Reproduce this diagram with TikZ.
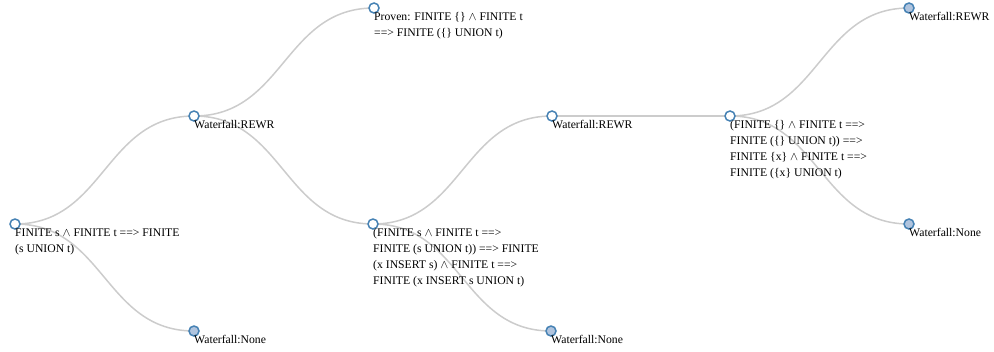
\documentclass[tikz,border=0pt]{standalone}
\usepackage{fontspec}
\setmainfont{Liberation Serif}
\usetikzlibrary{calc}
\pgfdeclarelayer{background}
\pgfsetlayers{background,main}
\newcommand{\conj}{$\wedge$}
\begin{document}
\begin{tikzpicture}[x=1pt,y=-1pt,
  inner/.style={circle,draw=steelblue,fill=white,line width=1.5pt,minimum size=10pt,inner sep=0pt},
  leaf/.style={circle,draw=steelblue,fill=leafblue,line width=1.5pt,minimum size=10pt,inner sep=0pt},
  lbl/.style={anchor=north west,inner sep=0pt,align=left,text=black,
    font=\fontsize{11.7}{16}\selectfont},
  link/.style={draw=linkgray,line width=1.5pt}]
\definecolor{steelblue}{HTML}{4682B4}
\definecolor{leafblue}{HTML}{B0C4DE}
\definecolor{linkgray}{HTML}{CCCCCC}
\useasboundingbox (0,0) rectangle (994,351);

% tree nodes
\node[inner] (root)  at (15,224) {};
\node[inner] (rewrA) at (194,116) {};
\node[leaf]  (noneA) at (194,331) {};
\node[inner] (proven) at (374,8) {};
\node[inner] (stepB) at (373,224) {};
\node[inner] (rewrB) at (552,116) {};
\node[leaf]  (noneB) at (551,331) {};
\node[inner] (stepC) at (730,116) {};
\node[leaf]  (rewrC) at (909,8) {};
\node[leaf]  (noneC) at (909,224) {};

% links as horizontal diagonals, behind the circles
\begin{pgfonlayer}{background}
\foreach \s/\t in {root/rewrA, root/noneA, rewrA/proven, rewrA/stepB,
                   stepB/rewrB, stepB/noneB, rewrB/stepC, stepC/rewrC, stepC/noneC}{
  \draw[link] let \p1=(\s.center), \p2=(\t.center) in
    (\p1) .. controls ({(\x1+\x2)/2},\y1) and ({(\x1+\x2)/2},\y2) .. (\p2);
}
\end{pgfonlayer}

% labels: first baseline about 12pt below each circle centre
\node[lbl] (troot) at (15,225) {\strut FINITE s \conj{} FINITE t ==> FINITE\\(s UNION t)};
\node[lbl] (trewrA) at (194,117) {\strut Waterfall:REWR};
\node[lbl] (tnoneA) at (194,332) {\strut Waterfall:None};
\node[lbl] (tproven) at (374,9) {\strut Proven: FINITE \{\} \conj{} FINITE t\\==> FINITE (\{\} UNION t)};
\node[lbl] (tstepB) at (373,225) {\strut (FINITE s \conj{} FINITE t ==>\\FINITE (s UNION t)) ==> FINITE\\(x INSERT s) \conj{} FINITE t ==>\\FINITE (x INSERT s UNION t)};
\node[lbl] (trewrB) at (552,117) {\strut Waterfall:REWR};
\node[lbl] (tnoneB) at (551,332) {\strut Waterfall:None};
\node[lbl] (tstepC) at (730,117) {\strut (FINITE \{\} \conj{} FINITE t ==>\\FINITE (\{\} UNION t)) ==>\\FINITE \{x\} \conj{} FINITE t ==>\\FINITE (\{x\} UNION t)};
\node[lbl] (trewrC) at (909,9) {\strut Waterfall:REWR};
\node[lbl] (tnoneC) at (909,225) {\strut Waterfall:None};
\end{tikzpicture}
\end{document}
